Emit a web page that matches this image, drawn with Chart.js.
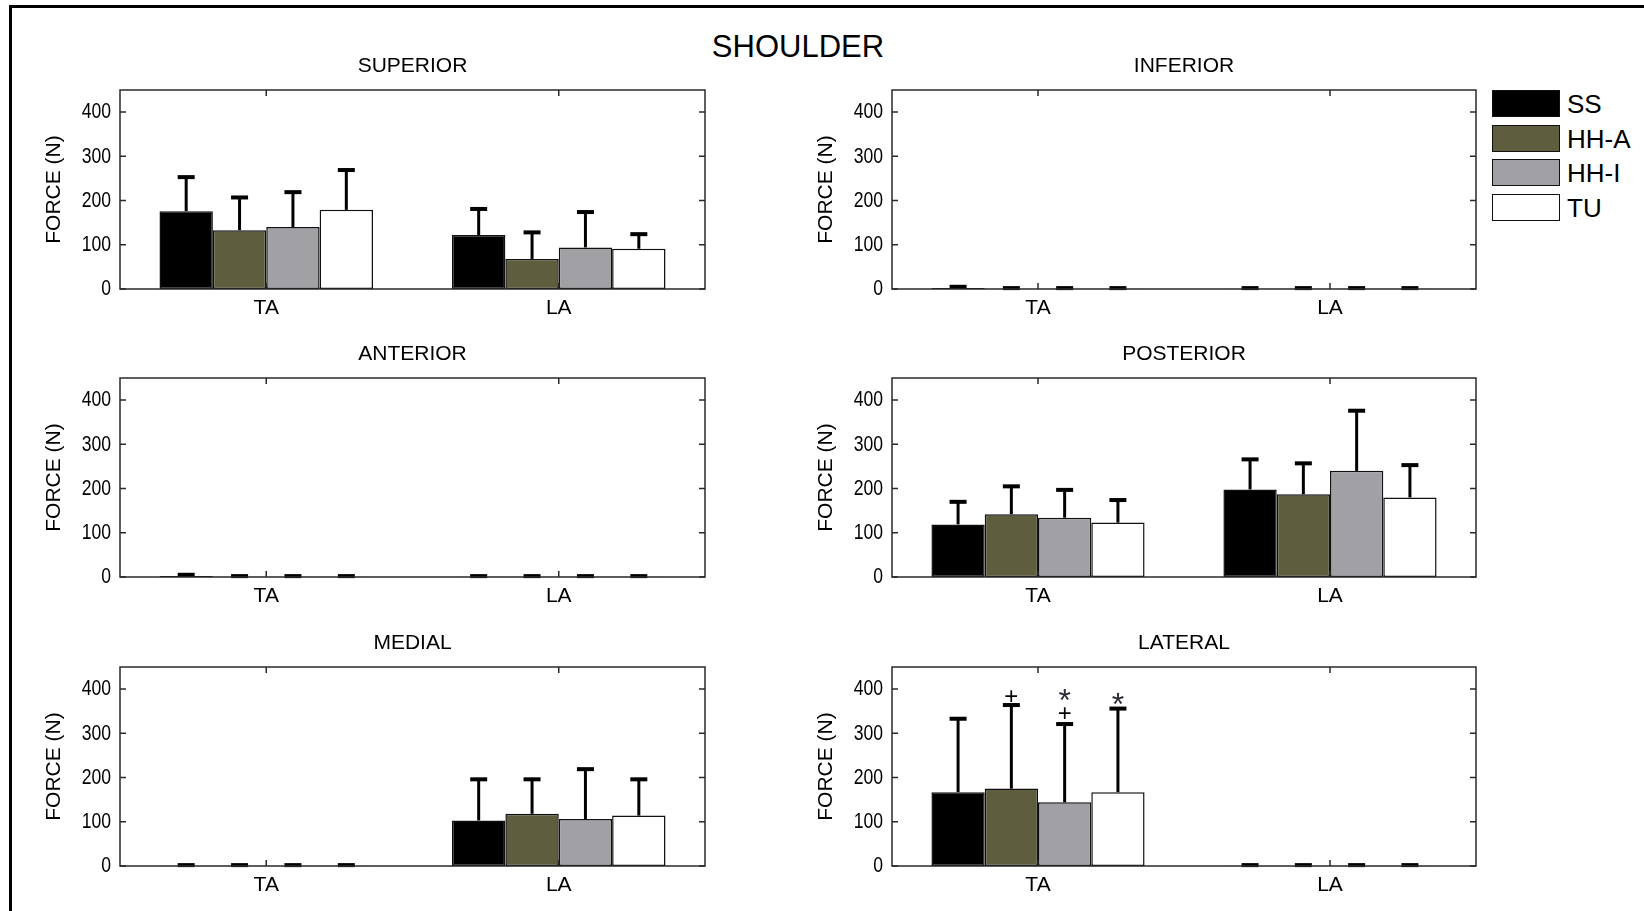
<!DOCTYPE html>
<html>
<head>
<meta charset="utf-8">
<script src="https://cdn.jsdelivr.net/npm/chart.js@4.4.0/dist/chart.umd.min.js"></script>
<style>
html,body{margin:0;padding:0;background:#fff;width:1644px;height:911px;overflow:hidden;position:relative;font-family:"Liberation Sans",Arial,sans-serif;}
#frame{position:absolute;left:9px;top:5px;width:2000px;height:2000px;border-left:3px solid #000;border-top:3px solid #000;}
canvas{position:absolute;}
#mainTitle{position:absolute;left:598px;width:400px;top:29px;text-align:center;font-size:31px;line-height:36px;color:#000;}
.lg{position:absolute;left:1492px;width:68px;height:27px;box-sizing:border-box;border:1.5px solid #111;}
.lgt{position:absolute;left:1567px;font-size:26px;line-height:30px;color:#000;white-space:nowrap;}
</style>
</head>
<body>
<div id="frame"></div>
<div id="mainTitle">SHOULDER</div>
<script>
// ---------- data ----------
const categories = ['TA', 'LA'];
const seriesNames = ['SS', 'HH-A', 'HH-I', 'TU'];
const seriesColors = ['#000000', '#5e5e3e', '#a1a1a5', '#ffffff'];
const yTickValues = [0, 100, 200, 300, 400];
const yMax = 450;
const panelTitles = ['SUPERIOR', 'INFERIOR', 'ANTERIOR', 'POSTERIOR', 'MEDIAL', 'LATERAL'];

// means per series [TA, LA] in order SS, HH-A, HH-I, TU ; errors = upper SD
const superiorMeans  = [[176, 122], [133, 68], [140, 94], [179, 91]];
const superiorErrors = [[77, 59], [74, 60], [79, 80], [90, 33]];

const inferiorMeans  = [[2, 0.5], [0.5, 0.5], [0.5, 0.5], [0.5, 0.5]];
const inferiorErrors = [[3, 1.5], [1.5, 1.5], [1.5, 1.5], [1.5, 1.5]];

const anteriorMeans  = [[2, 0.5], [0.5, 0.5], [0.5, 0.5], [0.5, 0.5]];
const anteriorErrors = [[3, 1.5], [1.5, 1.5], [1.5, 1.5], [1.5, 1.5]];

const posteriorMeans  = [[119, 198], [142, 187], [134, 240], [123, 180]];
const posteriorErrors = [[51, 68], [63, 70], [63, 136], [51, 73]];

const medialMeans  = [[0.5, 103], [0.5, 118], [0.5, 106], [0.5, 114]];
const medialErrors = [[1.5, 93], [1.5, 78], [1.5, 113], [1.5, 82]];

const lateralMeans  = [[167, 0.5], [175, 0.5], [144, 0.5], [167, 0.5]];
const lateralErrors = [[166, 1.5], [189, 1.5], [177, 1.5], [189, 1.5]];

// significance marks: series index, category index, symbol, y value
const lateralMarkSeries = [1, 2, 2, 3];
const lateralMarkCats   = [0, 0, 0, 0];
const lateralMarkText   = ['+', '*', '+', '*'];
const lateralMarkValues = [384, 394, 346, 386];

// ---------- layout ----------
const FONT = '"Liberation Sans", Arial, sans-serif';
const colLeft = [120, 892];
const colWidth = [585, 584];
const rowTop = [90, 378, 667];
const plotH = 199;
const YW = 90, PR = 6, TB = 37, XH = 40;

const overlayPlugin = {
  id: 'overlay',
  afterDatasetsDraw(chart) {
    const ctx = chart.ctx;
    const ys = chart.scales.y, xs = chart.scales.x;
    const a = chart.chartArea;
    ctx.save();
    // error bars
    chart.data.datasets.forEach((ds, i) => {
      const meta = chart.getDatasetMeta(i);
      meta.data.forEach((el, j) => {
        const top = ys.getPixelForValue(ds.data[j] + ds.errors[j]);
        ctx.strokeStyle = '#000';
        ctx.lineWidth = 3;
        ctx.beginPath();
        ctx.moveTo(el.x, el.y);
        ctx.lineTo(el.x, top);
        ctx.stroke();
        ctx.fillStyle = '#000';
        ctx.fillRect(el.x - 8.5, top - 2, 17, 4);
      });
    });
    // frame
    ctx.strokeStyle = '#2a2a2a';
    ctx.lineWidth = 1.5;
    ctx.strokeRect(a.left, a.top, a.right - a.left, a.bottom - a.top);
    // inward ticks
    ctx.beginPath();
    ys.ticks.forEach(t => {
      const y = ys.getPixelForValue(t.value);
      ctx.moveTo(a.left, y); ctx.lineTo(a.left + 6, y);
      ctx.moveTo(a.right, y); ctx.lineTo(a.right - 6, y);
    });
    categories.forEach((c, k) => {
      const x = xs.getPixelForValue(k);
      ctx.moveTo(x, a.bottom); ctx.lineTo(x, a.bottom - 6);
      ctx.moveTo(x, a.top); ctx.lineTo(x, a.top + 6);
    });
    ctx.stroke();
    // y tick labels (condensed, as in the original figure)
    ctx.fillStyle = '#000';
    ctx.font = '22px ' + FONT;
    ctx.textAlign = 'right';
    ctx.textBaseline = 'middle';
    ys.ticks.forEach(t => {
      const y = ys.getPixelForValue(t.value);
      ctx.save();
      ctx.translate(a.left - 9, y);
      ctx.scale(0.8, 1.04);
      ctx.fillText(String(t.value), 0, 0);
      ctx.restore();
    });
    // marks
    const marks = chart.options.plugins.overlay.marks || [];
    marks.forEach(m => {
      const el = chart.getDatasetMeta(m.series).data[m.cat];
      const y = ys.getPixelForValue(m.value);
      const isStar = m.text === '*';
      const size = isStar ? 32 : 24;
      ctx.font = size + 'px ' + FONT;
      ctx.fillStyle = isStar ? '#2b2b38' : '#000';
      ctx.textAlign = 'center';
      ctx.textBaseline = 'alphabetic';
      ctx.fillText(m.text, el.x, y + (isStar ? 0.6 : 0.34) * size);
    });
    ctx.restore();
  }
};

function makePanel(idx, means, errs, marks) {
  const col = idx % 2, row = Math.floor(idx / 2);
  const plotLeft = colLeft[col], plotW = colWidth[col], plotTop = rowTop[row];
  const canvas = document.createElement('canvas');
  canvas.width = YW + plotW + PR;
  canvas.height = TB + plotH + XH;
  canvas.style.left = (plotLeft - YW) + 'px';
  canvas.style.top = (plotTop - TB) + 'px';
  document.body.appendChild(canvas);
  new Chart(canvas, {
    type: 'bar',
    data: {
      labels: categories,
      datasets: seriesNames.map((n, i) => ({
        label: n,
        data: means[i],
        errors: errs[i],
        backgroundColor: seriesColors[i],
        borderColor: '#111',
        borderWidth: 1.5,
        borderSkipped: false,
        categoryPercentage: 0.73,
        barPercentage: 1
      }))
    },
    options: {
      responsive: false,
      animation: false,
      events: [],
      layout: { padding: { left: 0, right: PR, top: 0, bottom: 0 } },
      plugins: {
        legend: { display: false },
        tooltip: { enabled: false },
        title: {
          display: true, text: panelTitles[idx], color: '#000', fullSize: false,
          font: { family: FONT, size: 21, lineHeight: '25px', weight: 'normal' },
          padding: { top: 1, bottom: 11 }
        },
        overlay: { marks: marks }
      },
      scales: {
        x: {
          grid: { display: false, drawTicks: false },
          border: { display: false },
          ticks: { color: '#000', padding: 7, font: { family: FONT, size: 21, lineHeight: '25px' } },
          afterFit(s) { s.height = XH; }
        },
        y: {
          min: 0, max: yMax,
          grid: { display: false, drawTicks: false },
          border: { display: false },
          afterBuildTicks(s) { s.ticks = yTickValues.map(v => ({ value: v })); },
          ticks: { display: false },
          title: {
            display: true, text: 'FORCE (N)', color: '#000',
            font: { family: FONT, size: 21, lineHeight: '25px' },
            padding: { top: 12, bottom: 0 }
          },
          afterFit(s) { s.width = YW; }
        }
      }
    },
    plugins: [overlayPlugin]
  });
}

const lateralMarks = lateralMarkText.map((t, i) => ({
  series: lateralMarkSeries[i], cat: lateralMarkCats[i], text: t, value: lateralMarkValues[i]
}));

makePanel(0, superiorMeans, superiorErrors, []);
makePanel(1, inferiorMeans, inferiorErrors, []);
makePanel(2, anteriorMeans, anteriorErrors, []);
makePanel(3, posteriorMeans, posteriorErrors, []);
makePanel(4, medialMeans, medialErrors, []);
makePanel(5, lateralMeans, lateralErrors, lateralMarks);

// legend
const legendTops = [90, 125, 159, 194];
seriesNames.forEach((n, i) => {
  const box = document.createElement('div');
  box.className = 'lg';
  box.style.top = legendTops[i] + 'px';
  box.style.background = seriesColors[i];
  document.body.appendChild(box);
  const t = document.createElement('div');
  t.className = 'lgt';
  t.style.top = (legendTops[i] - 1) + 'px';
  t.textContent = n;
  document.body.appendChild(t);
});
</script>
</body>
</html>
